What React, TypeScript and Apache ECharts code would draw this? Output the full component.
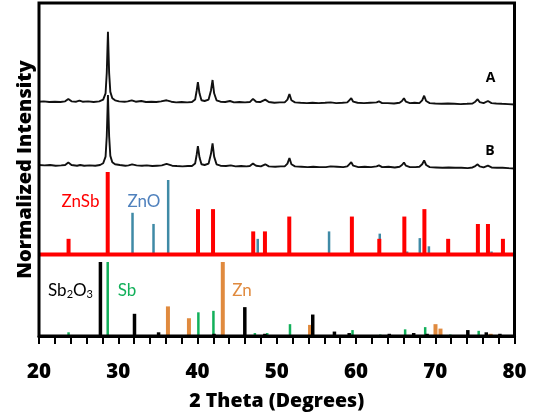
import React, { useEffect, useRef } from "react";
import * as echarts from "echarts";

// 2θ range of the scan
const X_MIN = 20;
const X_MAX = 80;
const X_TICKS = 10;
const X_LABELS = [20, 30, 40, 50, 60, 70, 80];

// Measured XRD scans: [2θ (deg), intensity (a.u.)]
const scanA: number[][] = [
  [20.0, 4], [20.6, 4.5], [21.3, 3.5], [22.0, 4], [22.7, 3.5], [23.3, 4.5], [23.7, 8], [24.1, 4.5],
  [24.7, 4], [25.1, 5.5], [25.5, 4], [26.2, 4.5], [26.9, 3.5], [27.6, 4.5], [28.1, 7], [28.4, 16],
  [28.55, 45], [28.7, 104], [28.85, 45], [29.0, 18], [29.25, 9], [29.6, 6], [30.1, 4.5], [30.8, 4],
  [31.2, 4.5], [31.7, 6], [32.2, 4], [32.9, 5], [33.5, 3.5], [34.2, 4], [34.8, 3.5], [35.4, 4.5],
  [36.1, 6], [36.7, 4], [37.3, 3], [38.0, 3.5], [38.7, 3], [39.3, 3.5], [39.7, 7], [39.9, 20],
  [40.05, 32], [40.25, 16], [40.5, 6], [40.9, 5], [41.4, 7], [41.7, 20], [41.9, 35], [42.1, 16],
  [42.4, 6], [42.9, 4], [43.5, 3.5], [44.1, 5], [44.6, 3], [45.3, 3.5], [46.0, 3], [46.6, 3.5],
  [47.0, 8], [47.4, 4], [47.9, 3.5], [48.55, 7], [49.0, 3.5], [49.7, 2.5], [50.4, 3], [51.0, 3],
  [51.35, 7], [51.6, 15], [51.85, 6], [52.3, 3], [53.0, 2.5], [53.8, 2], [54.5, 2.5], [55.3, 2],
  [56.1, 2.5], [56.8, 3], [57.5, 2], [58.3, 2.5], [58.9, 3], [59.15, 6], [59.4, 9], [59.65, 4],
  [60.2, 2.5], [61.0, 2], [61.8, 2.5], [62.6, 3], [62.9, 4.5], [63.3, 2], [64.0, 2], [64.8, 1.5],
  [65.5, 2.5], [65.8, 5], [66.05, 9], [66.3, 4], [66.8, 2], [67.4, 2.5], [68.0, 2], [68.35, 6],
  [68.6, 12.5], [68.85, 5], [69.3, 2], [70.0, 1.5], [70.8, 1], [71.6, 1.5], [72.4, 1], [73.2, 0.5],
  [74.0, 1], [74.7, 1.5], [75.05, 4], [75.35, 7.5], [75.6, 3.5], [76.1, 2], [76.65, 5], [77.1, 2],
  [77.7, 1.5], [78.4, 1], [79.2, 0.5], [80.0, 0],
];

const scanB: number[][] = [
  [20.0, 5], [20.7, 4.5], [21.4, 5], [22.1, 4], [22.8, 4.5], [23.3, 5], [23.7, 8.5], [24.1, 5],
  [24.8, 4], [25.2, 5], [25.7, 4], [26.4, 4.5], [27.1, 4], [27.7, 5], [28.1, 7.5], [28.4, 17],
  [28.55, 46], [28.7, 105], [28.85, 46], [29.0, 18], [29.25, 9], [29.6, 6], [30.2, 5], [30.9, 4],
  [31.3, 4.5], [31.75, 6], [32.3, 4.5], [33.0, 4], [33.6, 4.5], [34.3, 3.5], [34.9, 4], [35.5, 4.5],
  [36.1, 6.5], [36.8, 4], [37.4, 3.5], [38.1, 3], [38.8, 3.5], [39.3, 3.5], [39.7, 7], [39.9, 20],
  [40.05, 32], [40.25, 16], [40.5, 6], [40.9, 5], [41.4, 7], [41.7, 21], [41.9, 36], [42.1, 17],
  [42.4, 6], [42.9, 4], [43.6, 3.5], [44.2, 4.5], [44.8, 3], [45.5, 3.5], [46.2, 3], [46.6, 3.5],
  [47.0, 7], [47.4, 4], [48.0, 3], [48.55, 6], [49.0, 3], [49.8, 2.5], [50.5, 3], [51.0, 3],
  [51.35, 7], [51.6, 15], [51.85, 6], [52.3, 3], [53.1, 2.5], [53.9, 2], [54.6, 2.5], [55.4, 2],
  [56.2, 2], [56.8, 3], [57.6, 2.5], [58.4, 2], [58.9, 3], [59.15, 6], [59.4, 9], [59.65, 4],
  [60.3, 2], [61.1, 2.5], [61.9, 2], [62.6, 3], [62.9, 4.5], [63.3, 2], [64.1, 2.5], [64.9, 1.5],
  [65.5, 2.5], [65.8, 5], [66.05, 8.5], [66.3, 4], [66.8, 2], [67.5, 2], [68.0, 2.5], [68.35, 6],
  [68.6, 11.5], [68.85, 5], [69.3, 2], [70.1, 1.5], [70.9, 1], [71.7, 1.5], [72.5, 1], [73.3, 1],
  [74.1, 0.5], [74.7, 1.5], [75.05, 3.5], [75.35, 6], [75.6, 3], [76.1, 1.5], [76.65, 4], [77.1, 1.5],
  [77.8, 1], [78.5, 1], [79.2, 0.5], [80.0, 0],
];

// Reference patterns: [2θ (deg), relative intensity (%)]
const refZnSb: number[][] = [
  [23.73, 19], [28.67, 100], [40.06, 55], [41.96, 55], [47.03, 28], [48.51, 28], [51.58, 46],
  [59.48, 46], [62.94, 19], [66.1, 46], [68.63, 55], [71.63, 19], [75.38, 37], [76.65, 37], [78.54, 19],
];

const refZnO: number[][] = [
  [31.8, 56], [34.45, 41], [36.3, 100], [47.6, 21], [56.6, 31], [63.0, 28], [66.45, 4],
  [68.05, 22], [69.2, 11], [72.7, 2], [77.1, 4],
];

const refSb2O3: number[][] = [
  [27.75, 100], [32.05, 30], [35.09, 5], [42.09, 3], [45.97, 39], [48.5, 3], [54.54, 29],
  [57.28, 6], [59.14, 4], [64.2, 3], [67.28, 4], [68.97, 3], [74.11, 8], [76.44, 5], [78.16, 3],
];

const refSb: number[][] = [
  [23.73, 5], [28.67, 100], [40.11, 32], [42.01, 34], [47.24, 4], [48.8, 4], [51.67, 16],
  [59.56, 8], [63.06, 2], [66.2, 9], [68.73, 12], [71.9, 2], [75.48, 7],
];

const refZn: number[][] = [
  [36.27, 40], [38.92, 24], [43.19, 100], [54.2, 15], [70.03, 16], [70.66, 10], [76.99, 3],
];

// Vertical layout (y axis runs in plot pixels: 0 at the bottom axis)
const PLOT_H = 333;
const A_BASE = 231.5;
const B_BASE = 167.5;
const SCAN_SCALE = 0.7;
const ZNSB_BASE = 81.5;
const ZNSB_SCALE = 0.825;
const ZNO_SCALE = 0.745;
const LOWER_BASE = 0;
const LOWER_SCALE = 0.74;
const TICK_LABEL_GAP = 34;

const RED = "#ff0000";
const ZNO_COLOR = "#3f8aa6";
const ZNO_TEXT = "#4f81bd";
const SB_COLOR = "#12b05a";
const ZN_COLOR = "#e08a3e";
const FONT = "Lato, 'Open Sans', sans-serif";
const BOLD_FONT = "'Open Sans', sans-serif";

function sticks(name: string, data: number[][], base: number, scale: number, color: string, width: number, z: number) {
  return {
    type: "custom",
    name,
    z,
    data: data.map(([x, v]) => [x, base, base + v * scale]),
    encode: { x: 0, y: [1, 2] },
    renderItem: (_params: any, api: any) => {
      const p0 = api.coord([api.value(0), api.value(1)]);
      const p1 = api.coord([api.value(0), api.value(2)]);
      return {
        type: "line",
        shape: { x1: p0[0], y1: p0[1], x2: p1[0], y2: p1[1] },
        style: { stroke: color, lineWidth: width, lineCap: "butt" },
      };
    },
  };
}

function scan(name: string, data: number[][], base: number) {
  return {
    type: "line",
    name,
    z: 5,
    data: data.map(([x, v]) => [x, base + v * SCAN_SCALE]),
    showSymbol: false,
    symbol: "none",
    lineStyle: { color: "#111", width: 1.9 },
  };
}

export default function App() {
  const ref = useRef<HTMLDivElement>(null);

  useEffect(() => {
    document.body.style.margin = "0";
    const chart = echarts.init(ref.current!, null, { renderer: "svg" });
    const label = (text: string, x: number, y: number, color: string, size: number, weight: string | number = "normal", family = FONT) => ({
      type: "text",
      x,
      y,
      style: { text, fill: color, fontFamily: family, fontSize: size, fontWeight: weight, align: "center", verticalAlign: "middle" },
    });
    chart.setOption({
      animation: false,
      grid: {
        left: 39,
        right: 21.5,
        top: 3,
        bottom: 84,
        show: true,
        borderColor: "#000",
        borderWidth: 3,
        z: 10,
      },
      xAxis: {
        type: "value",
        min: X_MIN,
        max: X_MAX,
        interval: X_TICKS,
        name: "2 Theta (Degrees)",
        nameLocation: "middle",
        nameGap: 53,
        nameTextStyle: { fontFamily: BOLD_FONT, fontWeight: 800, fontSize: 19.5, color: "#000", lineHeight: 20 },
        axisLine: { show: true, lineStyle: { color: "#000", width: 3 } },
        axisTick: { show: true, inside: false, length: 8, lineStyle: { color: "#000", width: 2 } },
        minorTick: { show: true, splitNumber: 5, length: 8, lineStyle: { color: "#000", width: 2 } },
        axisLabel: { show: false },
        splitLine: { show: false },
        z: 10,
      },
      yAxis: {
        type: "value",
        min: 0,
        max: PLOT_H,
        name: "Normalized Intensity",
        nameLocation: "middle",
        nameGap: 6,
        nameTextStyle: { fontFamily: BOLD_FONT, fontWeight: 800, fontSize: 20, color: "#000", lineHeight: 20 },
        axisLine: { show: false },
        axisTick: { show: false },
        axisLabel: { show: false },
        splitLine: { show: false },
      },
      series: [
        sticks("ZnO", refZnO, ZNSB_BASE, ZNO_SCALE, ZNO_COLOR, 2.5, 2),
        sticks("ZnSb", refZnSb, ZNSB_BASE, ZNSB_SCALE, RED, 4, 3),
        {
          type: "line",
          name: "ZnSb baseline",
          z: 4,
          data: [[X_MIN, ZNSB_BASE], [X_MAX, ZNSB_BASE]],
          showSymbol: false,
          symbol: "none",
          lineStyle: { color: RED, width: 4 },
        },
        sticks("Zn", refZn, LOWER_BASE, LOWER_SCALE, ZN_COLOR, 4, 2),
        sticks("Sb", refSb, LOWER_BASE, LOWER_SCALE, SB_COLOR, 2.5, 3),
        sticks("Sb2O3", refSb2O3, LOWER_BASE, LOWER_SCALE, "#000", 3.5, 4),
        scan("B", scanB, B_BASE),
        scan("A", scanA, A_BASE),
      ],
    });

    // Bold tick labels placed at the axis scale positions
    const axisY = chart.convertToPixel({ yAxisIndex: 0 }, 0) as number;
    const tickLabels = X_LABELS.map((v) =>
      label(String(v), chart.convertToPixel({ xAxisIndex: 0 }, v) as number, axisY + TICK_LABEL_GAP, "#000", 20.5, 800, BOLD_FONT)
    );

    chart.setOption({
      graphic: [
        ...tickLabels,
        label("A", 490.5, 76.5, "#000", 14, "bold", BOLD_FONT),
        label("B", 490, 149, "#000", 14, "bold", BOLD_FONT),
        label("ZnSb", 80.5, 200, RED, 17),
        label("ZnO", 144, 200, ZNO_TEXT, 17),
        {
          type: "text",
          x: 70.5,
          y: 289,
          style: {
            text: "Sb{s|2}O{s|3}",
            fill: "#000",
            fontFamily: FONT,
            fontSize: 17,
            align: "center",
            verticalAlign: "middle",
            rich: { s: { fontSize: 11, fontFamily: FONT, fill: "#000", padding: [9, 0, 0, 0] } },
          },
        },
        label("Sb", 127, 289, SB_COLOR, 17),
        label("Zn", 242, 289, ZN_COLOR, 17),
      ],
    });
    return () => chart.dispose();
  }, []);

  return <div ref={ref} style={{ position: "fixed", left: 0, top: 0, width: 536, height: 420 }} />;
}
